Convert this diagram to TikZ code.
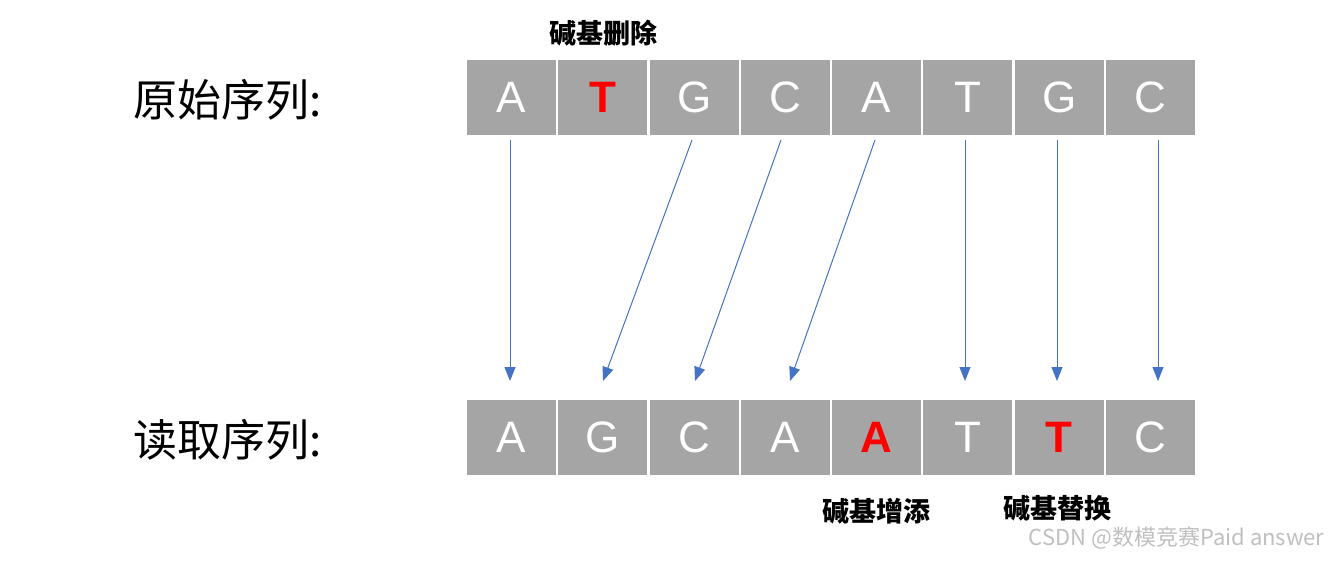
\documentclass[tikz,border=0pt]{standalone}
\usepackage{fontspec}
\setmainfont{Liberation Sans}
\newfontfamily\cjk{Noto Sans CJK SC}
\usetikzlibrary{arrows.meta}
\definecolor{boxgray}{RGB}{165,165,165}
\definecolor{arrblue}{RGB}{68,114,196}
\definecolor{mred}{RGB}{255,0,0}
\tikzset{
 base/.style={fill=boxgray,draw=none,minimum width=89pt,minimum height=75pt,inner sep=0pt,text=white,font=\fontsize{44}{44}\selectfont},
 red/.style={text=mred,font=\fontsize{44}{44}\selectfont\bfseries},
 conn/.style={draw=arrblue,line width=1pt,-{Triangle[length=14pt,width=11pt]}},
 lab/.style={font=\cjk\fontsize{44}{44}\selectfont,anchor=west},
 note/.style={font=\cjk\bfseries\fontsize{27}{27}\selectfont}
}
\begin{document}
\begin{tikzpicture}[x=1pt,y=-1pt]
\useasboundingbox (0,0) rectangle (1331,560);
\foreach \l [count=\i] in {A,T,G,C,A,T,G,C}{
  \node[base] (t\i) at ({466+91.25*(\i-0.5)},97) {\l};
  \coordinate (s\i) at ({466+91.25*(\i-0.5)},140);
}
\node[base,red] at (t2) {T};
\foreach \l [count=\i] in {A,G,C,A,A,T,T,C}{
  \node[base] (b\i) at ({466+91.25*(\i-0.5)},437) {\l};
}
\node[base,red] at (b5) {A};
\node[base,red] at (b7) {T};
\coordinate (e1) at (510,381);
\coordinate (e2) at (603,381);
\coordinate (e3) at (695,381);
\coordinate (e4) at (790,381);
\coordinate (e6) at (965,381);
\coordinate (e7) at (1057,381);
\coordinate (e8) at (1158,381);
\coordinate (f1) at (510,140);
\coordinate (f3) at (692,140);
\coordinate (f4) at (781,140);
\coordinate (f5) at (875,140);
\coordinate (f6) at (965,140);
\coordinate (f7) at (1057,140);
\coordinate (f8) at (1158,140);
\draw[conn] (f1) -- (e1);
\draw[conn] (f3) -- (e2);
\draw[conn] (f4) -- (e3);
\draw[conn] (f5) -- (e4);
\draw[conn] (f6) -- (e6);
\draw[conn] (f7) -- (e7);
\draw[conn] (f8) -- (e8);
\node[lab] (l1) at (130,100) {原始序列:};
\node[lab] (l2) at (130,440) {读取序列:};
\node[note] (n1) at (603,33) {碱基删除};
\node[note] (n2) at (876,511) {碱基增添};
\node[note] (n3) at (1057,508) {碱基替换};
\node[font=\cjk\fontsize{22}{22}\selectfont,text=black!25,anchor=east] (w) at (1328,538) {CSDN @数模竞赛Paid answer};
\end{tikzpicture}
\end{document}
